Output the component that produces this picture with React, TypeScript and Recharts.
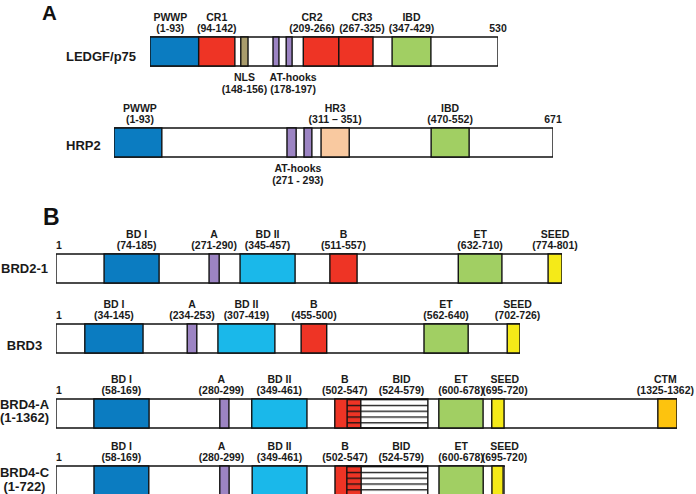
import React from "react";
import { BarChart, Bar, XAxis, YAxis } from "recharts";

// Box extents are read off the drawing along each protein's own residue axis
// (the figure is a schematic, boxes are not to scale with the printed ranges).

const ledgfName = ["LEDGF/p75"];
const ledgfLength = 530;
const ledgfDomains = ["PWWP", "CR1", "NLS", "AT-hook 1", "AT-hook 2", "CR2", "CR3", "IBD"];
const ledgfStart = [1, 75, 139, 188, 208, 234, 288, 369];
const ledgfEnd = [75, 130, 150, 197, 217, 288, 340, 428];
const ledgfCaption = ["PWWP", "CR1", "NLS", "", "AT-hooks", "CR2", "CR3", "IBD"];
const ledgfRange = ["(1-93)", "(94-142)", "(148-156)", "", "(178-197)", "(209-266)", "(267-325)", "(347-429)"];

const hrp2Name = ["HRP2"];
const hrp2Length = 671;
const hrp2Domains = ["PWWP", "AT-hook 1", "AT-hook 2", "HR3", "IBD"];
const hrp2Start = [1, 265, 291, 317, 485];
const hrp2End = [74, 279, 303, 360, 543];
const hrp2Caption = ["PWWP", "", "AT-hooks", "HR3", "IBD"];
const hrp2Range = ["(1-93)", "", "(271 - 293)", "(311 – 351)", "(470-552)"];

const brd2Name = ["BRD2-1"];
const brd2Length = 801;
const brd2Domains = ["BD I", "A", "BD II", "B", "ET", "SEED"];
const brd2Start = [77, 243, 292, 434, 637, 779];
const brd2End = [164, 259, 379, 477, 706, 801];
const brd2Range = ["(74-185)", "(271-290)", "(345-457)", "(511-557)", "(632-710)", "(774-801)"];

const brd3Name = ["BRD3"];
const brd3Length = 726;
const brd3Domains = ["BD I", "A", "BD II", "B", "ET", "SEED"];
const brd3Start = [46, 206, 254, 384, 576, 706];
const brd3End = [137, 221, 343, 424, 645, 726];
const brd3Range = ["(34-145)", "(234-253)", "(307-419)", "(455-500)", "(562-640)", "(702-726)"];

const brd4aName = ["BRD4-A", "(1-1362)"];
const brd4aLength = 1362;
const brd4aDomains = ["BD I", "A", "BD II", "B", "BID", "ET", "SEED", "CTM"];
const brd4aStart = [84, 360, 430, 612, 639, 840, 956, 1320];
const brd4aEnd = [205, 380, 551, 669, 816, 937, 983, 1362];
const brd4aRange = ["(58-169)", "(280-299)", "(349-461)", "(502-547)", "(524-579)", "(600-678)", "(695-720)", "(1325-1362)"];

const brd4cName = ["BRD4-C", "(1-722)"];
const brd4cLength = 722;
const brd4cDomains = ["BD I", "A", "BD II", "B", "BID", "ET", "SEED"];
const brd4cStart = [62, 264, 316, 449, 468, 616, 701];
const brd4cEnd = [150, 279, 404, 491, 598, 687, 719];
const brd4cRange = ["(58-169)", "(280-299)", "(349-461)", "(502-547)", "(524-579)", "(600-678)", "(695-720)"];

const FONT = "'Liberation Sans', Arial, Helvetica, sans-serif";
const BAR = 29;
const H = 100;

const colors: Record<string, string> = {
  PWWP: "#0b7cc1",
  CR1: "#ee3425",
  CR2: "#ee3425",
  CR3: "#ee3425",
  NLS: "#a99c6c",
  "AT-hook 1": "#9c84c3",
  "AT-hook 2": "#9c84c3",
  HR3: "#f9c9a0",
  IBD: "#a1cf63",
  "BD I": "#0b7cc1",
  A: "#9c84c3",
  "BD II": "#1ab8ea",
  B: "#ee3425",
  BID: "url(#bidLines)",
  ET: "#a1cf63",
  SEED: "#f5ea18",
  CTM: "#fdc30e",
};

const below = ["NLS", "AT-hook 1", "AT-hook 2"];

interface RowLayout {
  barTop: number;
  start: number;
  end: number;
  nameX: number;
  nameAnchor: "start" | "middle";
  nameDy: number[];
  labelDx: Record<number, number>;
  marker: "start" | "end";
}

interface RowProps {
  name: string[];
  length: number;
  domains: string[];
  starts: number[];
  ends: number[];
  captions: string[];
  ranges: string[];
  layout: RowLayout;
}

const textStyle = { fontFamily: FONT, fontWeight: 700, fontSize: 10.5, fill: "#1a1a1a" };

const makeLabel = (caption: string, range: string, isBelow: boolean, dx: number) => (props: any) => {
  const vb = props.viewBox ?? props;
  if (!caption && !range) return <g />;
  const cx = vb.x + vb.width / 2 + dx;
  const y1 = isBelow ? vb.y + vb.height + 15 : vb.y - 16.5;
  const y2 = isBelow ? vb.y + vb.height + 27 : vb.y - 5.5;
  return (
    <g>
      <text x={cx} y={y1} textAnchor="middle" {...textStyle}>{caption}</text>
      <text x={cx} y={y2} textAnchor="middle" {...textStyle}>{range}</text>
    </g>
  );
};

const ProteinRow: React.FC<RowProps> = ({ name, length, domains, starts, ends, captions, ranges, layout }) => {
  const row: Record<string, unknown> = { name: name.join("|"), backbone: [1, length] };
  domains.forEach((d, i) => {
    row[`d${i}`] = [starts[i], ends[i]];
  });
  const center = layout.barTop + BAR / 2;

  const markerLabel = (props: any) => {
    const vb = props.viewBox ?? props;
    const isEnd = layout.marker === "end";
    return (
      <text
        x={isEnd ? vb.x + vb.width : vb.x}
        y={vb.y - 5.5}
        textAnchor={isEnd ? "middle" : "start"}
        {...textStyle}
      >
        {isEnd ? String(length) : "1"}
      </text>
    );
  };

  const nameTick = (props: any) => {
    const lines = String(props.payload?.value ?? "").split("|");
    return (
      <text
        textAnchor={layout.nameAnchor}
        fontFamily={FONT}
        fontWeight={700}
        fontSize={13}
        fill="#1a1a1a"
      >
        {lines.map((l, i) => (
          <tspan key={l} x={layout.nameX} y={props.y + layout.nameDy[i]}>
            {l}
          </tspan>
        ))}
      </text>
    );
  };

  return (
    <div style={{ position: "absolute", left: 0, top: center - H / 2 }}>
      <BarChart
        layout="vertical"
        width={696}
        height={H}
        data={[row]}
        margin={{ top: 0, right: 696 - layout.end, bottom: 0, left: 0 }}
        barSize={BAR}
        barGap={-BAR}
      >
        <defs>
          <pattern id="bidLines" patternUnits="objectBoundingBox" width="1" height="0.2">
            <rect x="0" y="0" width="2000" height="1.3" fill="#111" />
          </pattern>
        </defs>
        <XAxis type="number" dataKey="backbone" domain={[1, length]} scale="linear" allowDataOverflow hide />
        <YAxis
          type="category"
          dataKey="name"
          width={layout.start}
          axisLine={false}
          tickLine={false}
          tick={nameTick}
        />
        <Bar
          dataKey="backbone"
          fill="#ffffff"
          stroke="#111"
          strokeWidth={1.4}
          isAnimationActive={false}
          label={markerLabel}
        />
        {domains.map((d, i) => (
          <Bar
            key={d}
            dataKey={`d${i}`}
            fill={colors[d]}
            stroke="#111"
            strokeWidth={1.4}
            isAnimationActive={false}
            label={makeLabel(captions[i], ranges[i], below.includes(d), layout.labelDx[i] ?? 0)}
          />
        ))}
      </BarChart>
    </div>
  );
};

const App: React.FC = () => {
  return (
    <div
      style={{
        position: "absolute",
        left: 0,
        top: 0,
        width: 696,
        height: 494,
        overflow: "hidden",
        background: "#fff",
        fontFamily: FONT,
      }}
    >
      <ProteinRow
        name={ledgfName}
        length={ledgfLength}
        domains={ledgfDomains}
        starts={ledgfStart}
        ends={ledgfEnd}
        captions={ledgfCaption}
        ranges={ledgfRange}
        layout={{ barTop: 36, start: 150, end: 498, nameX: 66, nameAnchor: "start", nameDy: [10], labelDx: { 0: -4, 4: 4, 5: -9, 6: 6 }, marker: "end" }}
      />
      <ProteinRow
        name={hrp2Name}
        length={hrp2Length}
        domains={hrp2Domains}
        starts={hrp2Start}
        ends={hrp2End}
        captions={hrp2Caption}
        ranges={hrp2Range}
        layout={{ barTop: 127.5, start: 114, end: 553, nameX: 66, nameAnchor: "start", nameDy: [8], labelDx: { 0: 2, 2: -10 }, marker: "end" }}
      />
      <ProteinRow
        name={brd2Name}
        length={brd2Length}
        domains={brd2Domains}
        starts={brd2Start}
        ends={brd2End}
        captions={brd2Domains}
        ranges={brd2Range}
        layout={{ barTop: 253, start: 56, end: 562, nameX: 24.5, nameAnchor: "middle", nameDy: [5], labelDx: { 0: 5 }, marker: "start" }}
      />
      <ProteinRow
        name={brd3Name}
        length={brd3Length}
        domains={brd3Domains}
        starts={brd3Start}
        ends={brd3End}
        captions={brd3Domains}
        ranges={brd3Range}
        layout={{ barTop: 323, start: 56, end: 520, nameX: 24.5, nameAnchor: "middle", nameDy: [12], labelDx: { 5: 4 }, marker: "start" }}
      />
      <ProteinRow
        name={brd4aName}
        length={brd4aLength}
        domains={brd4aDomains}
        starts={brd4aStart}
        ends={brd4aEnd}
        captions={brd4aDomains}
        ranges={brd4aRange}
        layout={{ barTop: 398.5, start: 56, end: 677, nameX: 24.5, nameAnchor: "middle", nameDy: [-4.5, 9], labelDx: { 1: -3, 3: -3, 4: 14, 6: 7, 7: -2 }, marker: "start" }}
      />
      <ProteinRow
        name={brd4cName}
        length={brd4cLength}
        domains={brd4cDomains}
        starts={brd4cStart}
        ends={brd4cEnd}
        captions={brd4cDomains}
        ranges={brd4cRange}
        layout={{ barTop: 465, start: 56, end: 505, nameX: 24.5, nameAnchor: "middle", nameDy: [-3, 11], labelDx: { 1: -3, 3: -3, 4: 14, 6: 7 }, marker: "start" }}
      />
      <svg width={696} height={494} style={{ position: "absolute", left: 0, top: 0, pointerEvents: "none" }}>
        <text x={42} y={19.5} fontFamily={FONT} fontWeight={700} fontSize={20.5} fill="#111">A</text>
        <text x={43} y={225} fontFamily={FONT} fontWeight={700} fontSize={23} fill="#111">B</text>
      </svg>
    </div>
  );
};

export default App;
